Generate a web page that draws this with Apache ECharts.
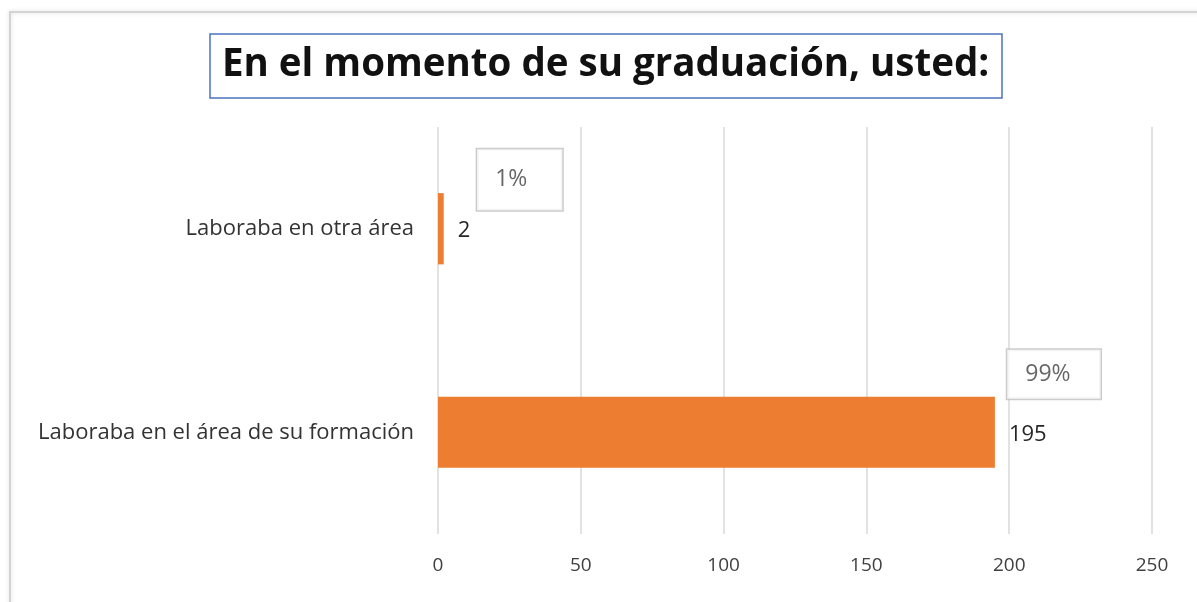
<!DOCTYPE html>
<html>
<head>
<meta charset="utf-8">
<script src="https://cdn.jsdelivr.net/npm/echarts@6/dist/echarts.min.js"></script>
<style>
    html, body { margin: 0; padding: 0; background: #fff; }
    #chart { width: 1197px; height: 602px; }
</style>
</head>
<body>
<div id="chart"></div>
<script>
    // categories bottom -> top (ECharts category y axis starts at the bottom)
    var categories = ['Laboraba en el área de su formación', 'Laboraba en otra área'];
    var counts = [195, 2];
    var percents = ['99%', '1%'];
    var xTicks = [0, 50, 100, 150, 200, 250];

    var font = '"Open Sans", "Noto Sans", sans-serif';
    // Excel put the percentage boxes by hand, so each has its own offset and size
    var boxStyles = [
        { offset: [59, -58], padding: [12, 30, 9, 18] },
        { offset: [76, -49], padding: [14, 35, 19, 18] }
    ];

    var chart = echarts.init(document.getElementById('chart'));
    var option = {
        animation: false,
        textStyle: { fontFamily: font },
        graphic: [
            {
                type: 'rect',
                shape: { x: 10, y: 12, width: 1200, height: 600 },
                style: { fill: 'none', stroke: '#d4d4d4', lineWidth: 2, shadowColor: 'rgba(0,0,0,0.15)', shadowBlur: 4 },
                silent: true
            }
        ],
        title: {
            text: 'En el momento de su graduación, usted:',
            left: 210,
            top: 34,
            padding: [12, 13, 13, 12],
            borderColor: '#4a72c0',
            borderWidth: 1.5,
            textStyle: {
                fontFamily: font,
                fontSize: 38.5,
                fontWeight: 'bold',
                color: '#111'
            }
        },
        grid: {
            left: 438,
            right: 45,
            top: 127,
            bottom: 68
        },
        xAxis: {
            type: 'value',
            min: xTicks[0],
            max: xTicks[xTicks.length - 1],
            interval: 50,
            axisLine: { show: false },
            axisTick: { show: false },
            splitLine: { lineStyle: { color: '#d9d9d9', width: 1.5 } },
            axisLabel: { color: '#404040', fontSize: 19, margin: 22, fontFamily: font }
        },
        yAxis: {
            type: 'category',
            data: categories,
            axisLine: { show: false },
            axisTick: { show: false },
            axisLabel: { color: '#333', fontSize: 22, margin: 24, fontFamily: font }
        },
        series: [
            {
                type: 'bar',
                data: counts,
                barWidth: '35%',
                itemStyle: { color: '#ED7D31' },
                label: {
                    show: true,
                    position: 'right',
                    distance: 14,
                    offset: [0, 2],
                    color: '#262626',
                    fontSize: 22,
                    fontFamily: font
                }
            },
            {
                type: 'scatter',
                symbolSize: 0,
                silent: true,
                data: counts.map(function (v, i) {
                    return {
                        value: [v, categories[i]],
                        label: boxStyles[i]
                    };
                }),
                label: {
                    show: true,
                    position: 'inside',
                    formatter: function (p) { return percents[p.dataIndex]; },
                    color: '#404040',
                    fontSize: 23,
                    lineHeight: 28,
                    fontFamily: font,
                    backgroundColor: '#fff',
                    borderColor: '#bfbfbf',
                    borderWidth: 1.5,
                    align: 'center'
                }
            }
        ]
    };
    chart.setOption(option);
</script>
</body>
</html>
